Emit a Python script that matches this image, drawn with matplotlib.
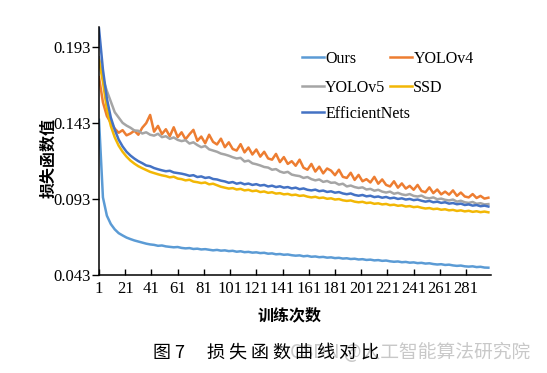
import numpy as np
import matplotlib
matplotlib.use("Agg")
import matplotlib.pyplot as plt

# loss values, sampled every 3 epochs (1, 4, 7, ..., 298)
ours = [
    0.1450, 0.0940, 0.0820, 0.0765, 0.0730, 0.0705, 0.0690, 0.0676, 0.0666, 0.0657,
    0.0650, 0.0643, 0.0636, 0.0631, 0.0628, 0.0622, 0.0624, 0.0618, 0.0615, 0.0612,
    0.0614, 0.0608, 0.0605, 0.0607, 0.0601, 0.0603, 0.0598, 0.0600, 0.0596, 0.0592,
    0.0595, 0.0590, 0.0592, 0.0587, 0.0589, 0.0583, 0.0586, 0.0580, 0.0582, 0.0577,
    0.0579, 0.0574, 0.0576, 0.0570, 0.0572, 0.0566, 0.0568, 0.0563, 0.0565, 0.0560,
    0.0557, 0.0559, 0.0553, 0.0556, 0.0550, 0.0552, 0.0547, 0.0549, 0.0544, 0.0546,
    0.0541, 0.0543, 0.0538, 0.0540, 0.0535, 0.0537, 0.0532, 0.0534, 0.0529, 0.0531,
    0.0526, 0.0528, 0.0523, 0.0525, 0.0520, 0.0517, 0.0519, 0.0514, 0.0516, 0.0511,
    0.0513, 0.0508, 0.0510, 0.0505, 0.0507, 0.0502, 0.0499, 0.0501, 0.0496, 0.0498,
    0.0493, 0.0490, 0.0492, 0.0487, 0.0485, 0.0487, 0.0482, 0.0484, 0.0479, 0.0478,
]
yolov4 = [
    0.1730, 0.1565, 0.1475, 0.1430, 0.1392, 0.1365, 0.1382, 0.1348, 0.1360, 0.1378,
    0.1352, 0.1398, 0.1428, 0.1482, 0.1372, 0.1410, 0.1356, 0.1388, 0.1342, 0.1401,
    0.1336, 0.1368, 0.1322, 0.1355, 0.1384, 0.1312, 0.1340, 0.1296, 0.1352, 0.1305,
    0.1288, 0.1326, 0.1270, 0.1302, 0.1258, 0.1248, 0.1290, 0.1236, 0.1268, 0.1222,
    0.1255, 0.1208, 0.1240, 0.1196, 0.1188, 0.1226, 0.1172, 0.1205, 0.1160, 0.1178,
    0.1148, 0.1188, 0.1135, 0.1122, 0.1160, 0.1110, 0.1142, 0.1098, 0.1130, 0.1116,
    0.1086, 0.1122, 0.1075, 0.1068, 0.1102, 0.1055, 0.1088, 0.1046, 0.1060, 0.1038,
    0.1075, 0.1030, 0.1058, 0.1022, 0.1012, 0.1046, 0.1004, 0.1032, 0.0998, 0.1016,
    0.0990, 0.1022, 0.0982, 0.0974, 0.1006, 0.0968, 0.0992, 0.0960, 0.0978, 0.0958,
    0.0986, 0.0950, 0.0972, 0.0946, 0.0940, 0.0962, 0.0936, 0.0950, 0.0932, 0.0938,
]
yolov5 = [
    0.1860, 0.1720, 0.1640, 0.1570, 0.1500, 0.1465, 0.1430, 0.1412, 0.1398, 0.1380,
    0.1378, 0.1360, 0.1368, 0.1352, 0.1346, 0.1358, 0.1336, 0.1342, 0.1325, 0.1334,
    0.1318, 0.1310, 0.1316, 0.1294, 0.1302, 0.1284, 0.1270, 0.1278, 0.1256, 0.1248,
    0.1240, 0.1228, 0.1222, 0.1214, 0.1204, 0.1196, 0.1200, 0.1176, 0.1182, 0.1164,
    0.1158, 0.1150, 0.1140, 0.1136, 0.1122, 0.1126, 0.1110, 0.1102, 0.1108, 0.1090,
    0.1084, 0.1080, 0.1068, 0.1074, 0.1060, 0.1052, 0.1058, 0.1042, 0.1048, 0.1036,
    0.1038, 0.1024, 0.1030, 0.1012, 0.1018, 0.1008, 0.1002, 0.1006, 0.0992, 0.0996,
    0.0984, 0.0990, 0.0978, 0.0972, 0.0978, 0.0964, 0.0970, 0.0960, 0.0955, 0.0962,
    0.0950, 0.0946, 0.0952, 0.0938, 0.0934, 0.0940, 0.0928, 0.0932, 0.0924, 0.0920,
    0.0926, 0.0912, 0.0918, 0.0908, 0.0904, 0.0910, 0.0898, 0.0902, 0.0894, 0.0896,
]
ssd = [
    0.1840, 0.1700, 0.1520, 0.1410, 0.1335, 0.1280, 0.1240, 0.1208, 0.1182, 0.1162,
    0.1145, 0.1132, 0.1120, 0.1108, 0.1100, 0.1092, 0.1085, 0.1080, 0.1072, 0.1076,
    0.1064, 0.1060, 0.1052, 0.1056, 0.1044, 0.1040, 0.1034, 0.1038, 0.1026, 0.1030,
    0.1020, 0.1010, 0.1004, 0.0998, 0.1001, 0.0992, 0.0996, 0.0986, 0.0990, 0.0981,
    0.0985, 0.0975, 0.0979, 0.0970, 0.0974, 0.0965, 0.0968, 0.0960, 0.0963, 0.0955,
    0.0958, 0.0950, 0.0953, 0.0945, 0.0940, 0.0944, 0.0936, 0.0939, 0.0931, 0.0934,
    0.0926, 0.0929, 0.0921, 0.0917, 0.0920, 0.0912, 0.0908, 0.0911, 0.0903, 0.0906,
    0.0898, 0.0901, 0.0894, 0.0897, 0.0889, 0.0892, 0.0885, 0.0888, 0.0880, 0.0883,
    0.0876, 0.0879, 0.0872, 0.0867, 0.0870, 0.0863, 0.0866, 0.0859, 0.0862, 0.0855,
    0.0858, 0.0851, 0.0855, 0.0848, 0.0852, 0.0845, 0.0849, 0.0843, 0.0847, 0.0842,
]
efficientnets = [
    0.2050, 0.1780, 0.1590, 0.1465, 0.1385, 0.1320, 0.1275, 0.1240, 0.1215, 0.1195,
    0.1178, 0.1165, 0.1150, 0.1145, 0.1133, 0.1125, 0.1118, 0.1112, 0.1115, 0.1104,
    0.1100, 0.1096, 0.1090, 0.1082, 0.1086, 0.1074, 0.1078, 0.1068, 0.1072, 0.1061,
    0.1058, 0.1050, 0.1045, 0.1036, 0.1041, 0.1030, 0.1036, 0.1026, 0.1031, 0.1022,
    0.1027, 0.1018, 0.1022, 0.1012, 0.1017, 0.1008, 0.1013, 0.1004, 0.1008, 0.0999,
    0.1004, 0.0994, 0.0999, 0.0990, 0.0986, 0.0991, 0.0981, 0.0985, 0.0976, 0.0980,
    0.0971, 0.0975, 0.0966, 0.0961, 0.0966, 0.0956, 0.0951, 0.0956, 0.0947, 0.0951,
    0.0942, 0.0946, 0.0938, 0.0943, 0.0934, 0.0938, 0.0930, 0.0934, 0.0926, 0.0930,
    0.0922, 0.0926, 0.0918, 0.0912, 0.0917, 0.0908, 0.0912, 0.0904, 0.0908, 0.0899,
    0.0903, 0.0895, 0.0899, 0.0890, 0.0894, 0.0886, 0.0890, 0.0882, 0.0886, 0.0880,
]

names = ["Ours", "YOLOv4", "YOLOv5", "SSD", "EfficientNets"]
colors = ["#5B9BD5", "#ED7D31", "#A5A5A5", "#F2B705", "#4472C4"]
series = [ours, yolov4, yolov5, ssd, efficientnets]

xticks = list(range(1, 300, 20))
yticks = [0.043, 0.093, 0.143, 0.193]

serif = ["Liberation Serif", "DejaVu Serif"]
cjk = ["Noto Sans CJK SC", "DejaVu Sans"]

fig = plt.figure(figsize=(5.47, 3.73), dpi=100)
ax = fig.add_axes([99 / 547, 1 - 275 / 373, 392 / 547, 248 / 373])

lines = {}
for name, c, vals in zip(names, colors, series):
    x = 1 + 3 * np.arange(len(vals))
    lines[name], = ax.plot(x, vals, color=c, lw=1.8, label=name)

ax.set_xlim(1, 300)
ax.set_ylim(0.043, 0.206)
ax.set_xticks(xticks)
ax.set_yticks(yticks)
ax.set_xticklabels([str(t) for t in xticks], family=serif, fontsize=12)
ax.set_yticklabels(["%.3f" % t for t in yticks], family=serif, fontsize=12)
ax.tick_params(axis="x", direction="in", length=4, width=1, pad=4)
ax.tick_params(axis="y", direction="out", length=5, width=1, pad=1)
for s in ["top", "right"]:
    ax.spines[s].set_visible(False)
for s in ["left", "bottom"]:
    ax.spines[s].set_linewidth(1.1)

# legend: two columns for the first four, EfficientNets on its own row
leg_kw = dict(frameon=False, loc="upper left", bbox_transform=fig.transFigure,
              borderaxespad=0, borderpad=0, handlelength=1.35,
              handletextpad=0.1, labelspacing=0.8, columnspacing=0.3,
              prop={"family": serif, "size": 11.5})
order = ["Ours", "YOLOv5", "YOLOv4", "SSD"]
leg1 = ax.legend([lines[n] for n in order], order, ncol=2,
                 bbox_to_anchor=(302 / 547, 1 - 51 / 373), **leg_kw)
ax.add_artist(leg1)
ax.legend([lines["EfficientNets"]], ["EfficientNets"],
          bbox_to_anchor=(302 / 547, 1 - 106 / 373), **leg_kw)

fig.text(48 / 547, 1 - 158 / 373, "损失函数值", rotation=90, ha="center",
         va="center", family=cjk, fontweight="bold", fontsize=11.5)
fig.text(290 / 547, 1 - 315 / 373, "训练次数", ha="center", va="center",
         family=cjk, fontweight="bold", fontsize=11.5)
fig.text(530 / 547, 1 - 353 / 373, "CSDN @人工智能算法研究院", ha="right",
         va="center", family=cjk, fontsize=13.5, color="#BBBBBB", alpha=0.8)
fig.text(153 / 547, 1 - 353 / 373, "图 7\u3000 损 失 函 数 曲 线 对 比", ha="left",
         va="center", family=cjk, fontsize=13)

fig.savefig("out.png", dpi=100)
